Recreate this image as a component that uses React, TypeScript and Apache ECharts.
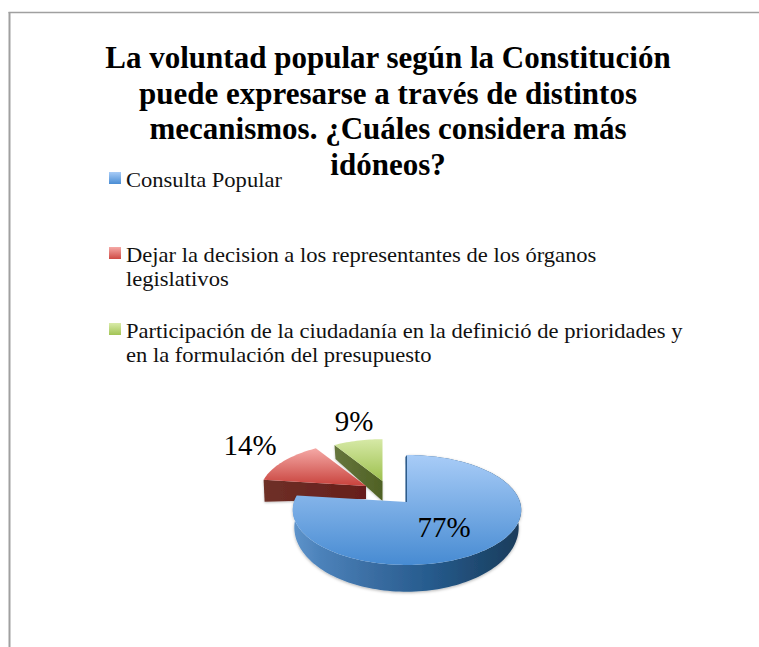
import React, { useEffect, useRef } from "react";
import * as echarts from "echarts";

const titleLines = [
  "La voluntad popular según la Constitución",
  "puede expresarse a través de distintos",
  "mecanismos. ¿Cuáles considera más",
  "idóneos?",
];
const categories = [
  "Consulta Popular",
  "Dejar la decision a los representantes de los órganos\nlegislativos",
  "Participación de la ciudadanía en la definició de prioridades y\nen la formulación del presupuesto",
];
const values = [77, 14, 9];

const SERIF = "'Liberation Serif', serif";
const K = 0.145;
const TWO_PI = Math.PI * 2;

const vGrad = (stops: [number, string][]) =>
  new echarts.graphic.LinearGradient(0, 0, 0, 1, stops.map(([offset, color]) => ({ offset, color })));
const hGrad = (stops: [number, string][]) =>
  new echarts.graphic.LinearGradient(0, 0, 1, 0, stops.map(([offset, color]) => ({ offset, color })));

const sliceStyles = [
  {
    ax: 407, ay: 502, scale: 1, z: 6,
    top: [[0, "#a8ccf7"], [1, "#478bd2"]] as [number, string][],
    label: [444, 527],
  },
  {
    ax: 366, ay: 486, scale: 0.93, z: 4, depthA: 13, depthB: 22,
    top: [[0, "#f5a9a6"], [1, "#c8423c"]] as [number, string][],
    side: [[0, "#6e3027"], [1, "#661e1b"]] as [number, string][],
    label: [250, 445],
  },
  {
    ax: 382.5, ay: 481, scale: 0.89, z: 2, depthA: 20, depthB: 14,
    top: [[0, "#d6e9a6"], [1, "#9dc04e"]] as [number, string][],
    side: [[0, "#66763d"], [1, "#4f6124"]] as [number, string][],
    label: [354, 421],
  },
];

const swatches: { y: number; stops: [number, string][] }[] = [
  { y: 172, stops: [[0, "#a8ccf7"], [1, "#4a8dd4"]] },
  { y: 247, stops: [[0, "#f5a9a6"], [1, "#cf4a44"]] },
  { y: 323, stops: [[0, "#d9eba9"], [1, "#a2c455"]] },
];
const legendTextY = [168, 243, 319];

function project(ax: number, ay: number, rx: number, ry: number, theta: number): number[] {
  const u = Math.sin(theta);
  const v = Math.cos(theta);
  const d = 1 + K * v;
  return [ax + (rx * u) / d, ay - (ry * v) / d];
}

function arc(ax: number, ay: number, rx: number, ry: number, a0: number, a1: number): number[][] {
  const out: number[][] = [];
  const n = Math.max(2, Math.ceil(Math.abs(a1 - a0) / 0.03));
  for (let i = 0; i <= n; i++) out.push(project(ax, ay, rx, ry, a0 + ((a1 - a0) * i) / n));
  return out;
}

export default function App() {
  const ref = useRef<HTMLDivElement>(null);
  useEffect(() => {
    document.body.style.margin = "0";
    const chart = echarts.init(ref.current!, null, { renderer: "svg" });
    const total = values.reduce((a, b) => a + b, 0);
    const starts = values.map((_, i) => values.slice(0, i).reduce((a, b) => a + b, 0));

    const renderItem = (params: any, api: any) => {
      const i = params.dataIndex;
      const val = api.value(0);
      const a0 = (starts[i] / total) * TWO_PI;
      const a1 = a0 + (val / total) * TWO_PI;
      const s = sliceStyles[i] as any;
      const rx = 113 * s.scale;
      const ry = 53.8 * s.scale;
      const children: any[] = [];
      const outer = arc(s.ax, s.ay, rx, ry, a0, a1);
      if (i === 0) {
        const lowAx = s.ax - 0.5;
        const lowAy = s.ay + 16;
        const low = arc(lowAx, lowAy, 111, 63, a0, a1).reverse();
        children.push({
          type: "polygon",
          z2: s.z,
          shape: { points: outer.concat(low) },
          style: {
            fill: hGrad([[0, "#5f94cb"], [0.12, "#4c82ba"], [0.35, "#3a6da2"], [0.6, "#265b8d"], [0.82, "#1f4970"], [1, "#1b3c5b"]]),
            shadowBlur: 3,
            shadowColor: "rgba(0,0,0,0.3)",
            shadowOffsetY: 1,
          },
        });
        children.push({
          type: "polygon",
          z2: s.z,
          shape: {
            points: [[s.ax, s.ay], outer[0], [outer[0][0] - 1.6, outer[0][1] + 2], [s.ax - 1.6, s.ay + 1]],
          },
          style: { fill: "#2d5c8c" },
        });
      } else {
        const corner = outer[0];
        children.push({
          type: "polygon",
          z2: s.z,
          shape: {
            points: [corner, [s.ax, s.ay], [s.ax, s.ay + s.depthA], [corner[0] + 1, corner[1] + s.depthB]],
          },
          style: { fill: hGrad(s.side), shadowBlur: 2, shadowColor: "rgba(0,0,0,0.25)", shadowOffsetY: 1 },
        });
      }
      children.push({
        type: "polygon",
        z2: s.z + 1,
        shape: { points: [[s.ax, s.ay] as number[]].concat(outer) },
        style: { fill: vGrad(s.top) },
      });
      children.push({
        type: "text",
        z2: 10,
        style: {
          text: `${val}%`,
          x: s.label[0],
          y: s.label[1],
          align: "center",
          verticalAlign: "middle",
          fontFamily: SERIF,
          fontSize: 29,
          fill: "#000",
        },
      });
      return { type: "group", children };
    };

    const graphics: any[] = [
      { type: "line", shape: { x1: 9.5, y1: 12, x2: 9.5, y2: 647 }, style: { stroke: "#a0a0a0", lineWidth: 2 } },
      { type: "line", shape: { x1: 8.5, y1: 12.5, x2: 759, y2: 12.5 }, style: { stroke: "#a0a0a0", lineWidth: 1.5 } },
    ];
    categories.forEach((name, i) => {
      graphics.push({
        type: "rect",
        shape: { x: 109, y: swatches[i].y, width: 12, height: 12 },
        style: { fill: vGrad(swatches[i].stops) },
      });
      graphics.push({
        type: "text",
        x: 126,
        y: legendTextY[i],
        scaleX: 1.074,
        style: {
          text: name,
          fontFamily: SERIF,
          fontSize: 21,
          lineHeight: 24.5,
          fill: "#111",
          align: "left",
          verticalAlign: "top",
        },
      });
    });

    chart.setOption({
      animation: false,
      backgroundColor: "#fff",
      title: {
        text: titleLines.join("\n"),
        left: 383,
        top: 35,
        textAlign: "center",
        textStyle: {
          fontFamily: SERIF,
          fontWeight: "bold",
          fontSize: 31,
          lineHeight: 35.5,
          color: "#000",
        },
      },
      graphic: graphics,
      series: [
        {
          type: "custom",
          coordinateSystem: "none",
          name: "Mecanismos",
          data: values.map((v, i) => ({ name: categories[i], value: [v] })),
          renderItem,
        },
      ],
    });
    return () => chart.dispose();
  }, []);
  return <div ref={ref} style={{ position: "absolute", left: 0, top: 0, width: 759, height: 647 }} />;
}
